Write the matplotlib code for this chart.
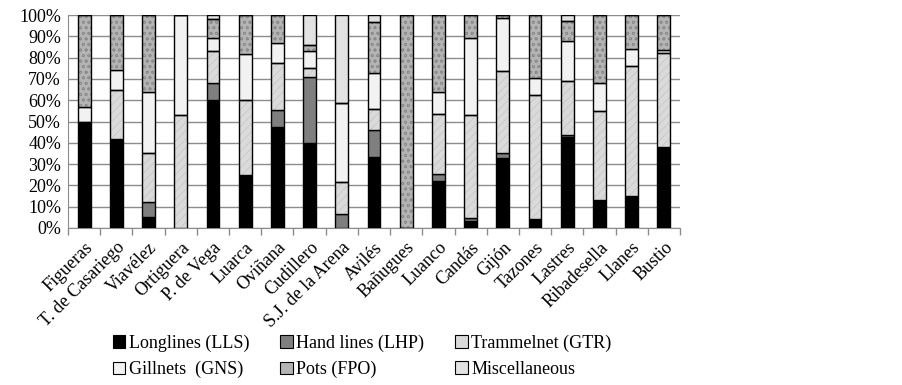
import numpy as np
import matplotlib
matplotlib.use("Agg")
import matplotlib.pyplot as plt

plt.rcParams["font.family"] = ["Liberation Serif", "DejaVu Serif"]
plt.rcParams["hatch.linewidth"] = 0.5

ports = ["Figueras", "T. de Casariego", "Viavélez", "Ortiguera", "P. de Vega",
         "Luarca", "Oviñana", "Cudillero", "S.J. de la Arena", "Avilés",
         "Bañugues", "Luanco", "Candás", "Gijón", "Tazones", "Lastres",
         "Ribadesella", "Llanes", "Bustio"]

# percentages per gear, bottom to top
lls  = [50, 42, 5, 0, 60, 25, 47.5, 40, 0, 33.5, 0, 22, 3.5, 33, 4, 42.5, 13, 15, 38]
lhp  = [0, 0, 7, 0, 8, 0, 8, 31, 6.5, 12.5, 0, 3.5, 1, 2, 0, 1, 0, 0, 0]
gtr  = [0, 23, 23, 53, 15, 35, 22, 4, 15, 10, 0, 28, 48.5, 38.5, 58.5, 25.5, 42, 61, 44]
gns  = [7, 9, 29, 47, 6, 21.5, 9.5, 8, 37, 17, 0, 10.5, 36, 25, 8, 19, 13, 8, 1.5]
fpo  = [43, 26, 36, 0, 9, 18.5, 13, 3, 0, 23.5, 100, 36, 11, 1.5, 29.5, 9, 32, 16, 16.5]
misc = [0, 0, 0, 0, 2, 0, 0, 14, 41.5, 3.5, 0, 0, 0, 0, 0, 3, 0, 0, 0]

# name, values, face colour, hatch, hatch colour
series = [
    ("Longlines (LLS)", lls, "#000000", None, None),
    ("Hand lines (LHP)", lhp, "#7f7f7f", None, None),
    ("Trammelnet (GTR)", gtr, "#dadada", "////", "#c4c4c4"),
    ("Gillnets  (GNS)", gns, "#f2f2f2", None, None),
    ("Pots (FPO)", fpo, "#b4b4b4", "ooo", "#8a8a8a"),
    ("Miscellaneous", misc, "#e2e2e2", None, None),
]

fig = plt.figure(figsize=(9.03, 3.85), dpi=100)
ax = fig.add_axes([68 / 903, 1 - 228 / 385, (680 - 68) / 903, (228 - 15) / 385])

x = np.arange(len(ports))
bottom = np.zeros(len(ports))
handles = []
for name, vals, color, hatch, hcolor in series:
    vals = np.array(vals, dtype=float)
    if hatch:
        ax.bar(x, vals, 0.4, bottom=bottom, color=color, edgecolor=hcolor,
               linewidth=0, hatch=hatch, zorder=3)
        b = ax.bar(x, vals, 0.4, bottom=bottom, facecolor="none", edgecolor="black",
                   linewidth=1.0, zorder=4)
        h = plt.Rectangle((0, 0), 1, 1, facecolor=color, edgecolor="black",
                          linewidth=0.8, label=name)
    else:
        b = ax.bar(x, vals, 0.4, bottom=bottom, color=color, edgecolor="black",
                   linewidth=1.0, zorder=3)
        h = plt.Rectangle((0, 0), 1, 1, facecolor=color, edgecolor="black",
                          linewidth=0.8, label=name)
    bottom += vals
    handles.append(h)

ax.set_xlim(-0.5, len(ports) - 0.5)
ax.set_ylim(0, 100)
ax.set_yticks(np.arange(0, 101, 10))
ax.set_yticklabels([f"{v}%" for v in range(0, 101, 10)], fontsize=13)
ax.yaxis.grid(True, color="#8c8c8c", linewidth=1.0, zorder=0)
ax.tick_params(axis="y", length=0, pad=5)

ax.set_xticks(x)
ax.set_xticklabels(ports, rotation=45, ha="right", rotation_mode="anchor", fontsize=13)
ax.set_xticks(np.arange(-0.5, len(ports), 1), minor=True)
ax.tick_params(axis="x", which="major", length=0, pad=8)
ax.tick_params(axis="x", which="minor", length=5, color="#8c8c8c", width=1)

for s in ["top", "right"]:
    ax.spines[s].set_visible(False)
for s in ["left", "bottom"]:
    ax.spines[s].set_color("#8c8c8c")

# legend is filled row by row in the reference
order = [0, 3, 1, 4, 2, 5]
fig.legend(handles=[handles[i] for i in order], loc="upper left",
           bbox_to_anchor=(100 / 903, 1 - 322 / 385),
           ncol=3, frameon=False, fontsize=13, handlelength=0.7, handleheight=0.7,
           handletextpad=0.2, columnspacing=1.7, labelspacing=0.5, borderpad=0.2)

fig.savefig("out.png", dpi=100)
